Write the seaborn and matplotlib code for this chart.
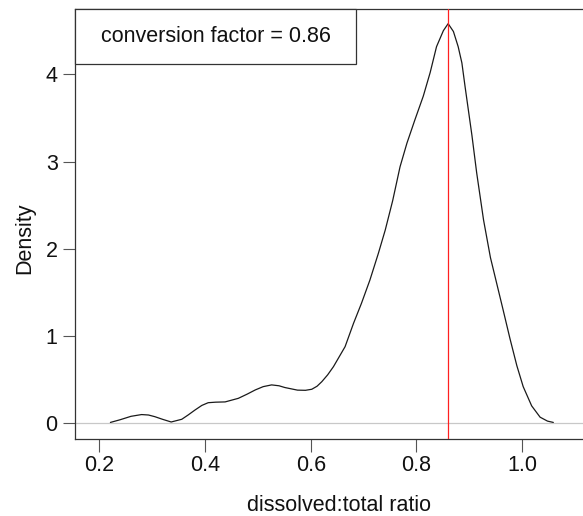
import matplotlib
matplotlib.use("Agg")
import matplotlib.pyplot as plt
from matplotlib.patches import Rectangle
import seaborn as sns
import pandas as pd

# Density curve
ratio = [0.221, 0.239, 0.260, 0.280, 0.293, 0.305, 0.320, 0.336, 0.356, 0.368,
         0.381, 0.394, 0.406, 0.420, 0.438, 0.463, 0.480, 0.495, 0.510, 0.526,
         0.540, 0.551, 0.575, 0.590, 0.602, 0.612, 0.621, 0.632, 0.643, 0.665,
         0.681, 0.696, 0.712, 0.728, 0.741, 0.755, 0.769, 0.782, 0.797, 0.813,
         0.826, 0.838, 0.851, 0.860, 0.870, 0.879, 0.886, 0.892, 0.905, 0.914,
         0.927, 0.940, 0.952, 0.964, 0.977, 0.990, 1.002, 1.018, 1.034, 1.048,
         1.059]
density = [0.010, 0.040, 0.080, 0.100, 0.095, 0.076, 0.045, 0.015, 0.046, 0.095,
           0.152, 0.205, 0.236, 0.242, 0.245, 0.286, 0.335, 0.382, 0.420, 0.440,
           0.430, 0.410, 0.380, 0.378, 0.390, 0.425, 0.477, 0.555, 0.649, 0.878,
           1.146, 1.375, 1.642, 1.948, 2.215, 2.550, 2.940, 3.210, 3.476, 3.750,
           4.020, 4.316, 4.500, 4.580, 4.490, 4.316, 4.130, 3.860, 3.300, 2.870,
           2.330, 1.900, 1.600, 1.300, 0.970, 0.660, 0.420, 0.200, 0.070, 0.025,
           0.010]
conversion_factor = 0.86
x_ticks = [0.2, 0.4, 0.6, 0.8, 1.0]
y_ticks = [0, 1, 2, 3, 4]
legend_text = "conversion factor = 0.86"
x_label = "dissolved:total ratio"
y_label = "Density"

df = pd.DataFrame({"ratio": ratio, "density": density})

sns.set_style("ticks")
plt.rcParams["font.family"] = ["Liberation Sans", "DejaVu Sans"]

W, H = 583, 516
fig = plt.figure(figsize=(W / 100, H / 100), dpi=100)
fig.patch.set_facecolor("white")
L, R, T, B = 75, 603, 9, 439
ax = fig.add_axes([L / W, (H - B) / H, (R - L) / W, (B - T) / H])
ax.set_facecolor("white")

ax.axhline(0, color="#c8c8c8", lw=0.9, zorder=1)
sns.lineplot(data=df, x="ratio", y="density", ax=ax, color="#1a1a1a",
             lw=0.9, sort=False, zorder=3)
ax.axvline(conversion_factor, color="#ff2020", lw=0.9, zorder=4)

ax.set_xlim(0.154, 1.153)
ax.set_ylim(-0.18, 4.748)
ax.set_xticks(x_ticks)
ax.set_xticklabels([f"{v:.1f}" for v in x_ticks])
ax.set_yticks(y_ticks)
ax.set_yticklabels([str(v) for v in y_ticks])

for s in ["left", "bottom", "top", "right"]:
    ax.spines[s].set_color("#333333")
    ax.spines[s].set_linewidth(0.9)

ax.tick_params(axis="both", length=9, width=0.8, color="#555555",
               labelsize=15.5, labelcolor="#111111")
ax.tick_params(axis="x", pad=2.5)
ax.tick_params(axis="y", pad=3.5)

ax.set_xlabel(x_label, fontsize=15.5, color="#111111", labelpad=13.5)
ax.set_ylabel(y_label, fontsize=15.5, color="#111111", labelpad=7.5)
ax.yaxis.label.set_y(0.467)

box_w = (356 - L) / (R - L)
box_h = (64 - T) / (B - T)
ax.add_patch(Rectangle((0, 1 - box_h), box_w, box_h, transform=ax.transAxes,
                       fill=True, facecolor="white", edgecolor="#333333",
                       lw=0.9, zorder=5, clip_on=False))
ax.text(box_w / 2, 1 - box_h / 2, legend_text, transform=ax.transAxes,
        ha="center", va="center", fontsize=15.5, color="#111111", zorder=6)

fig.savefig("out.png", dpi=100)
